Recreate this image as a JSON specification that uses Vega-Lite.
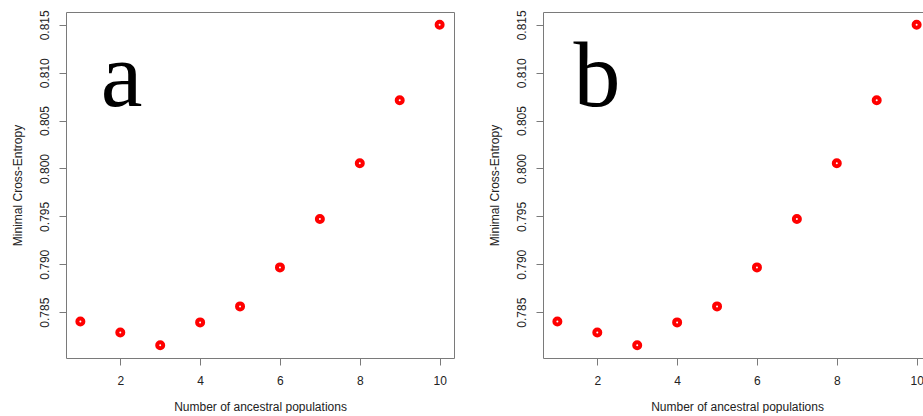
{
  "$schema": "https://vega.github.io/schema/vega-lite/v6.json",
  "padding": {"left": 10, "top": 9, "right": 0, "bottom": 0},
  "background": "white",
  "spacing": 32,
  "datasets": {
    "pts": [
      {"k": 1, "ce": 0.78403},
      {"k": 2, "ce": 0.78288},
      {"k": 3, "ce": 0.78155},
      {"k": 4, "ce": 0.78393},
      {"k": 5, "ce": 0.78560},
      {"k": 6, "ce": 0.78967},
      {"k": 7, "ce": 0.79472},
      {"k": 8, "ce": 0.80054},
      {"k": 9, "ce": 0.80713},
      {"k": 10, "ce": 0.81500}
    ],
    "labels": [
      {"panel": "a", "k": 2.03, "ce": 0.80655},
      {"panel": "b", "k": 1.99, "ce": 0.80655}
    ]
  },
  "config": {
    "font": "Liberation Sans",
    "view": {"stroke": "#7a7a7a", "strokeWidth": 1},
    "axis": {
      "grid": false, "domain": false, "tickColor": "#7a7a7a", "tickSize": 7,
      "labelFont": "Liberation Sans", "labelFontSize": 12, "labelColor": "#222",
      "titleFont": "Liberation Sans", "titleFontSize": 12, "titleFontWeight": "normal", "titleColor": "#222"
    }
  },
  "hconcat": [
    {
      "width": 388, "height": 346,
      "layer": [
        {
          "data": {"name": "pts"},
          "mark": {"type": "point", "filled": false, "color": "#ff0000", "strokeWidth": 4, "size": 36, "opacity": 1},
          "encoding": {
            "x": {"field": "k", "type": "quantitative", "scale": {"domain": [0.64, 10.36], "nice": false, "zero": false},
                  "axis": {"values": [2, 4, 6, 8, 10], "title": "Number of ancestral populations", "labelPadding": 10, "titlePadding": 15}},
            "y": {"field": "ce", "type": "quantitative", "scale": {"domain": [0.78021, 0.81634], "nice": false, "zero": false},
                  "axis": {"values": [0.785, 0.79, 0.795, 0.8, 0.805, 0.81, 0.815], "format": ".3f", "labelAngle": -90, "labelBaseline": "alphabetic", "labelAlign": "center", "labelPadding": 11, "title": "Minimal Cross-Entropy", "titlePadding": 14}}
          }
        },
        {
          "data": {"name": "labels"},
          "transform": [{"filter": "datum.panel === 'a'"}],
          "mark": {"type": "text", "font": "Liberation Serif", "fontSize": 94, "baseline": "alphabetic", "align": "center", "color": "black"},
          "encoding": {
            "x": {"field": "k", "type": "quantitative"},
            "y": {"field": "ce", "type": "quantitative"},
            "text": {"field": "panel"}
          }
        }
      ]
    },
    {
      "width": 388, "height": 346,
      "layer": [
        {
          "data": {"name": "pts"},
          "mark": {"type": "point", "filled": false, "color": "#ff0000", "strokeWidth": 4, "size": 36, "opacity": 1},
          "encoding": {
            "x": {"field": "k", "type": "quantitative", "scale": {"domain": [0.64, 10.36], "nice": false, "zero": false},
                  "axis": {"values": [2, 4, 6, 8, 10], "title": "Number of ancestral populations", "labelPadding": 10, "titlePadding": 15}},
            "y": {"field": "ce", "type": "quantitative", "scale": {"domain": [0.78021, 0.81634], "nice": false, "zero": false},
                  "axis": {"values": [0.785, 0.79, 0.795, 0.8, 0.805, 0.81, 0.815], "format": ".3f", "labelAngle": -90, "labelBaseline": "alphabetic", "labelAlign": "center", "labelPadding": 11, "title": "Minimal Cross-Entropy", "titlePadding": 14}}
          }
        },
        {
          "data": {"name": "labels"},
          "transform": [{"filter": "datum.panel === 'b'"}],
          "mark": {"type": "text", "font": "Liberation Serif", "fontSize": 94, "baseline": "alphabetic", "align": "center", "color": "black"},
          "encoding": {
            "x": {"field": "k", "type": "quantitative"},
            "y": {"field": "ce", "type": "quantitative"},
            "text": {"field": "panel"}
          }
        }
      ]
    }
  ]
}
